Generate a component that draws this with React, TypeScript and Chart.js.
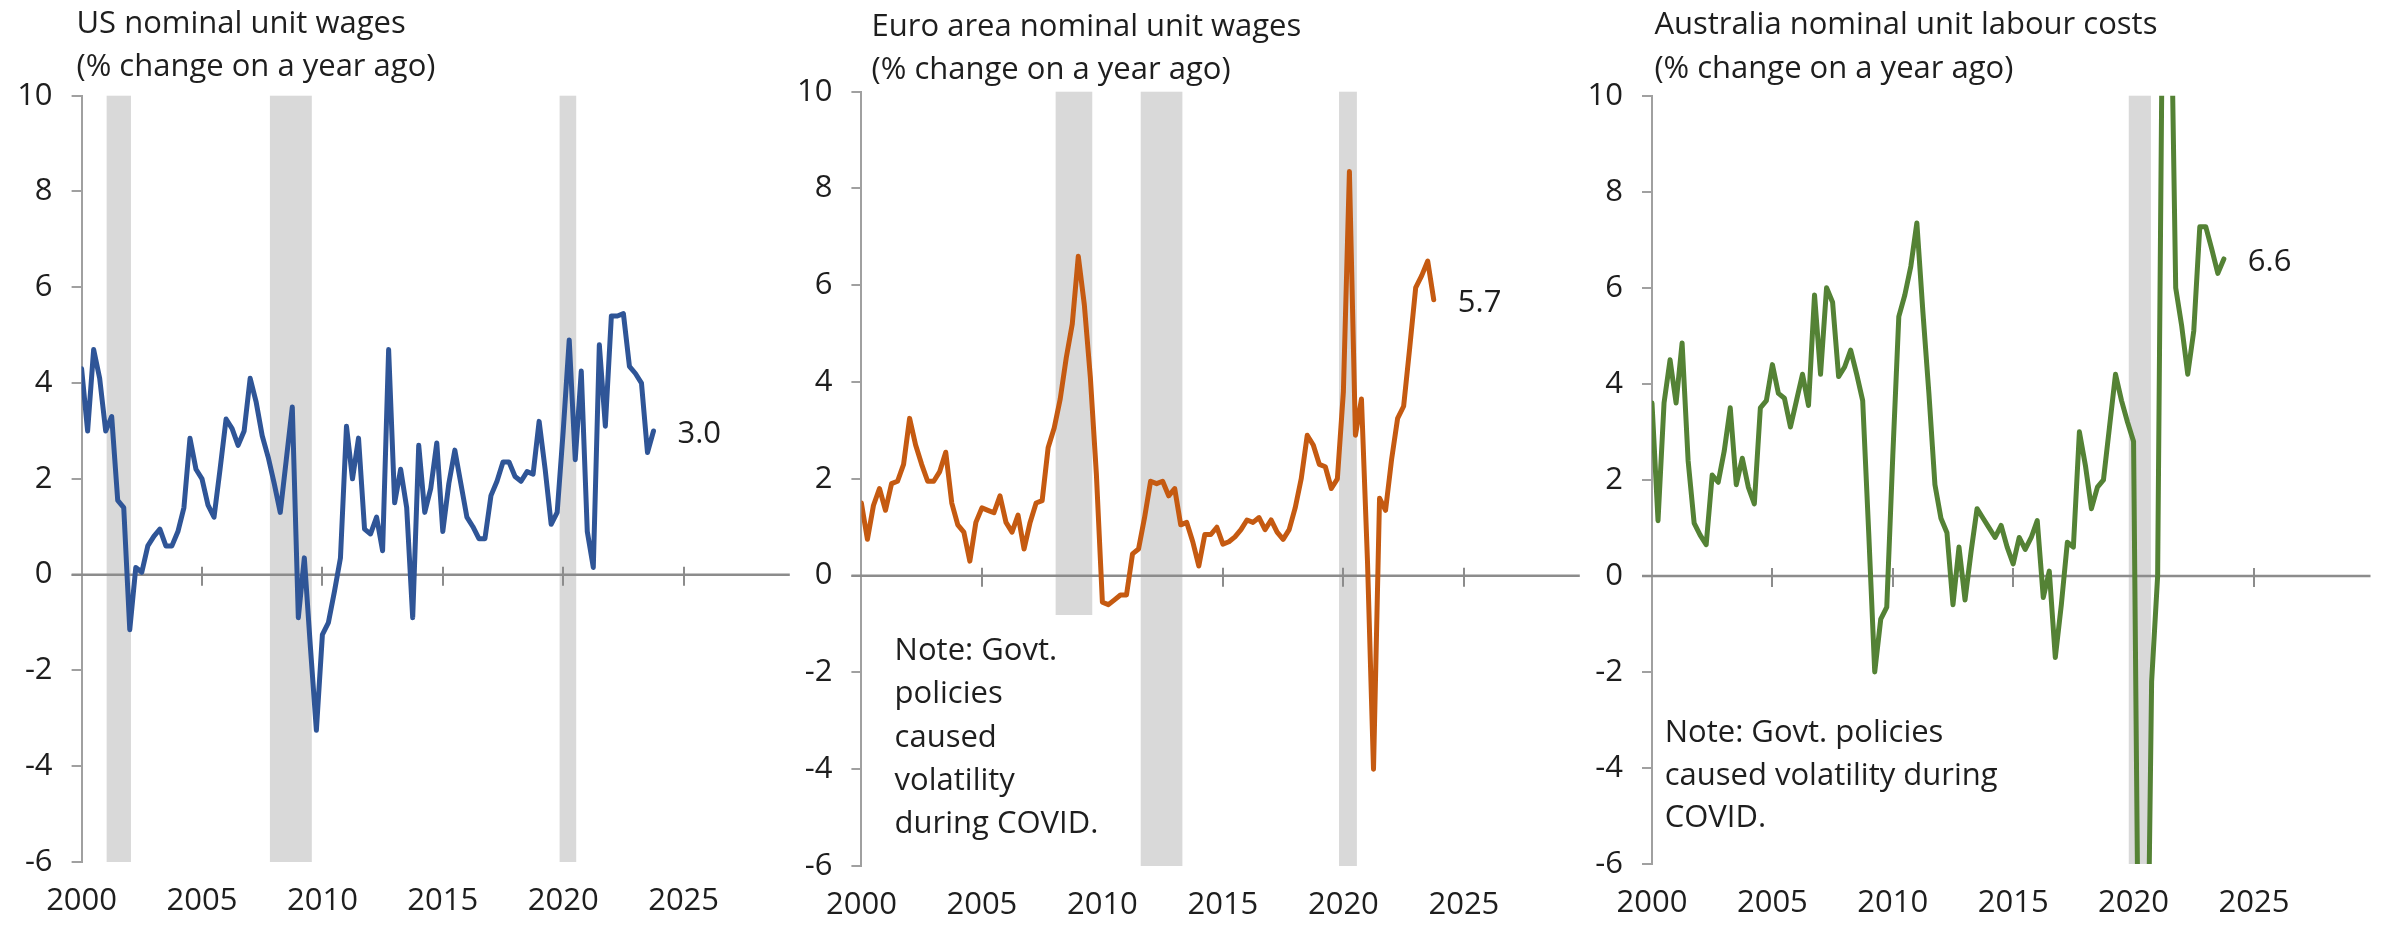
import { useEffect, useRef } from "react";
import { Chart, registerables } from "chart.js";

Chart.register(...registerables);

const FONT_FAMILY = "'Open Sans', Lato, sans-serif";
const FONT_SIZE = 31;
const TEXT_COLOR = "#1e1e1e";

// Quarterly observations, 2000 Q1 .. 2023 Q4 (decimal years)
const QUARTERS: number[] = Array.from({ length: 96 }, (_, i) => 2000 + i / 4);

const US_UNIT_WAGES = [
  4.3, 3.0, 4.7, 4.1, 3.0, 3.3, 1.55, 1.4, -1.15, 0.15,
  0.05, 0.6, 0.8, 0.95, 0.6, 0.6, 0.9, 1.4, 2.85, 2.2,
  2.0, 1.45, 1.2, 2.2, 3.25, 3.05, 2.7, 3.0, 4.1, 3.6,
  2.9, 2.45, 1.9, 1.3, 2.4, 3.5, -0.9, 0.35, -1.5, -3.25,
  -1.25, -1.0, -0.35, 0.35, 3.1, 2.0, 2.85, 0.95, 0.85, 1.2,
  0.5, 4.7, 1.5, 2.2, 1.4, -0.9, 2.7, 1.3, 1.8, 2.75,
  0.9, 1.9, 2.6, 1.9, 1.2, 1.0, 0.75, 0.75, 1.65, 1.95,
  2.35, 2.35, 2.05, 1.95, 2.15, 2.1, 3.2, 2.2, 1.05, 1.3,
  3.0, 4.9, 2.4, 4.25, 0.9, 0.15, 4.8, 3.1, 5.4, 5.4,
  5.45, 4.35, 4.2, 4.0, 2.55, 3.0,
];

const EURO_UNIT_WAGES = [
  1.5, 0.75, 1.45, 1.8, 1.35, 1.9, 1.95, 2.3, 3.25, 2.7,
  2.3, 1.95, 1.95, 2.15, 2.55, 1.5, 1.05, 0.9, 0.3, 1.1,
  1.4, 1.35, 1.3, 1.65, 1.1, 0.9, 1.25, 0.55, 1.1, 1.5,
  1.55, 2.65, 3.05, 3.65, 4.5, 5.2, 6.6, 5.6, 4.1, 2.1,
  -0.55, -0.6, -0.5, -0.4, -0.4, 0.45, 0.55, 1.2, 1.95, 1.9,
  1.95, 1.65, 1.8, 1.05, 1.1, 0.7, 0.2, 0.85, 0.85, 1.0,
  0.65, 0.7, 0.8, 0.95, 1.15, 1.1, 1.2, 0.95, 1.15, 0.9,
  0.75, 0.95, 1.4, 2.0, 2.9, 2.7, 2.3, 2.25, 1.8, 2.0,
  3.8, 8.35, 2.9, 3.65, 0.3, -4.0, 1.6, 1.35, 2.4, 3.25,
  3.5, 4.7, 5.95, 6.2, 6.5, 5.7,
];

const AUS_UNIT_LABOUR_COSTS = [
  3.6, 1.15, 3.6, 4.5, 3.6, 4.85, 2.4, 1.1, 0.85, 0.65,
  2.1, 1.95, 2.6, 3.5, 1.9, 2.45, 1.85, 1.5, 3.5, 3.65,
  4.4, 3.8, 3.7, 3.1, 3.65, 4.2, 3.55, 5.85, 4.2, 6.0,
  5.7, 4.15, 4.35, 4.7, 4.2, 3.65, 0.9, -2.0, -0.9, -0.65,
  2.5, 5.4, 5.85, 6.45, 7.35, 5.5, 3.8, 1.9, 1.2, 0.9,
  -0.6, 0.6, -0.5, 0.5, 1.4, 1.2, 1.0, 0.8, 1.05, 0.6,
  0.25, 0.8, 0.55, 0.8, 1.15, -0.45, 0.1, -1.7, -0.6, 0.7,
  0.6, 3.0, 2.3, 1.4, 1.85, 2.0, 3.1, 4.2, 3.65, 3.2,
  2.8, -11.0, -12.0, -2.2, 0.0, 15.0, 14.0, 6.0, 5.2, 4.2,
  5.1, 7.27, 7.27, 6.8, 6.3, 6.6,
];

// Shaded periods [start, end] in decimal years
const US_SHADED = [[2001.04, 2002.05], [2007.82, 2009.56], [2019.85, 2020.54]];
const EURO_SHADED = [[2008.06, 2009.58], [2011.59, 2013.32], [2019.82, 2020.56]];
const AUS_SHADED = [[2019.8, 2020.72]];

const Y_TICKS = [-6, -4, -2, 0, 2, 4, 6, 8, 10];
const X_TICKS = [2000, 2005, 2010, 2015, 2020, 2025];

const US_TITLE = ["US nominal unit wages", "(% change on a year ago)"];
const EURO_TITLE = ["Euro area nominal unit wages", "(% change on a year ago)"];
const AUS_TITLE = ["Australia nominal unit labour costs", "(% change on a year ago)"];
const EURO_NOTE = ["Note: Govt.", "policies", "caused", "volatility", "during COVID."];
const AUS_NOTE = ["Note: Govt. policies", "caused volatility during", "COVID."];
const END_LABELS = ["3.0", "5.7", "6.6"];

type Panel = {
  key: string;
  values: number[];
  color: string;
  shaded: number[][];
  title: string[];
  note: string[];
  endLabel: string;
  canvasLeft: number;
  canvasWidth: number;
  yAxisWidth: number;
  padRight: number;
  padTop: number;
  xAxisHeight: number;
  xMax: number;
  titleDx: number;
  titleY: number[];
  noteDx: number;
  noteY0: number;
  noteStep: number;
  noteBox?: { dx: number; w: number; top: number };
};

const PANELS: Panel[] = [
  {
    key: "us",
    values: US_UNIT_WAGES,
    color: "#2F5597",
    shaded: US_SHADED,
    title: US_TITLE,
    note: [],
    endLabel: END_LABELS[0],
    canvasLeft: 0,
    canvasWidth: 800,
    yAxisWidth: 81.6,
    padRight: 10.2,
    padTop: 95.7,
    xAxisHeight: 64,
    xMax: 2029.41,
    titleDx: -5.1,
    titleY: [33.3, 76],
    noteDx: 0,
    noteY0: 0,
    noteStep: 0,
  },
  {
    key: "euro",
    values: EURO_UNIT_WAGES,
    color: "#C55A11",
    shaded: EURO_SHADED,
    title: EURO_TITLE,
    note: EURO_NOTE,
    endLabel: END_LABELS[1],
    canvasLeft: 800,
    canvasWidth: 790,
    yAxisWidth: 61.4,
    padRight: 10.2,
    padTop: 91.7,
    xAxisHeight: 60,
    xMax: 2029.81,
    titleDx: 10.2,
    titleY: [36, 79.3],
    noteDx: 33.2,
    noteY0: 660,
    noteStep: 43.3,
    noteBox: { dx: 14, w: 226, top: 615 },
  },
  {
    key: "aus",
    values: AUS_UNIT_LABOUR_COSTS,
    color: "#548235",
    shaded: AUS_SHADED,
    title: AUS_TITLE,
    note: AUS_NOTE,
    endLabel: END_LABELS[2],
    canvasLeft: 1590,
    canvasWidth: 795,
    yAxisWidth: 62,
    padRight: 14.5,
    padTop: 95.7,
    xAxisHeight: 62,
    xMax: 2029.84,
    titleDx: 2.4,
    titleY: [34.3, 78.3],
    noteDx: 12.7,
    noteY0: 742,
    noteStep: 42.5,
  },
];

function makeDecor(p: Panel) {
  return {
    id: "decor-" + p.key,
    beforeDatasetsDraw(chart: any) {
      const { ctx, chartArea: ca, scales } = chart;
      const xs = scales.x;
      const ys = scales.y;
      ctx.save();
      ctx.fillStyle = "#D9D9D9";
      for (const [a, b] of p.shaded) {
        const x0 = xs.getPixelForValue(a);
        const x1 = xs.getPixelForValue(b);
        ctx.fillRect(x0, ca.top, x1 - x0, ca.bottom - ca.top);
      }
      if (p.noteBox) {
        ctx.fillStyle = "#FFFFFF";
        ctx.fillRect(ca.left + p.noteBox.dx, p.noteBox.top, p.noteBox.w, ca.bottom - p.noteBox.top + 2);
      }
      const y0 = ys.getPixelForValue(0);
      ctx.strokeStyle = "#8C8C8C";
      ctx.lineWidth = 2.5;
      ctx.beginPath();
      ctx.moveTo(ca.left - 10, y0);
      ctx.lineTo(ca.right, y0);
      ctx.stroke();
      ctx.lineWidth = 2;
      ctx.beginPath();
      for (const t of X_TICKS) {
        if (t === X_TICKS[0]) continue;
        const x = Math.round(xs.getPixelForValue(t));
        ctx.moveTo(x, y0 - 8);
        ctx.lineTo(x, y0 + 11);
      }
      ctx.stroke();
      ctx.restore();
    },
    afterDraw(chart: any) {
      const { ctx, chartArea: ca } = chart;
      ctx.save();
      ctx.fillStyle = TEXT_COLOR;
      ctx.font = `${FONT_SIZE}px ${FONT_FAMILY}`;
      ctx.textAlign = "left";
      ctx.textBaseline = "alphabetic";
      p.title.forEach((line, k) => ctx.fillText(line, ca.left + p.titleDx, p.titleY[k]));
      p.note.forEach((line, k) => ctx.fillText(line, ca.left + p.noteDx, p.noteY0 + k * p.noteStep));
      const meta = chart.getDatasetMeta(0);
      const last = meta.data[meta.data.length - 1];
      ctx.fillText(p.endLabel, last.x + 24, last.y + 12);
      ctx.restore();
    },
  };
}

function PanelChart({ panel }: { panel: Panel }) {
  const ref = useRef<HTMLCanvasElement>(null);
  useEffect(() => {
    const canvas = ref.current;
    if (!canvas) return;
    const chart = new Chart(canvas, {
      type: "line",
      data: {
        datasets: [
          {
            data: QUARTERS.map((x, i) => ({ x, y: panel.values[i] })),
            borderColor: panel.color,
            backgroundColor: panel.color,
            borderWidth: 5,
            pointRadius: 0,
            pointHoverRadius: 0,
            tension: 0,
            borderJoinStyle: "round",
            borderCapStyle: "round",
            clip: 0,
          } as any,
        ],
      },
      options: {
        animation: false,
        responsive: false,
        devicePixelRatio: 1,
        events: [],
        layout: {
          padding: { left: 0, right: panel.padRight, top: panel.padTop, bottom: 0 },
        },
        plugins: {
          legend: { display: false },
          tooltip: { enabled: false },
          title: { display: false },
        },
        scales: {
          x: {
            type: "linear",
            min: 2000,
            max: panel.xMax,
            grid: { display: false, drawTicks: false },
            border: { display: false },
            afterBuildTicks: (s: any) => {
              s.ticks = X_TICKS.map((v) => ({ value: v }));
            },
            afterFit: (s: any) => {
              s.height = panel.xAxisHeight;
            },
            ticks: {
              autoSkip: false,
              maxRotation: 0,
              minRotation: 0,
              padding: 21,
              color: TEXT_COLOR,
              font: { family: FONT_FAMILY, size: FONT_SIZE },
              callback: (v: any) => String(v),
            },
          },
          y: {
            type: "linear",
            min: -6,
            max: 10,
            afterBuildTicks: (s: any) => {
              s.ticks = Y_TICKS.map((v) => ({ value: v }));
            },
            afterFit: (s: any) => {
              s.width = panel.yAxisWidth;
            },
            grid: {
              display: true,
              drawOnChartArea: false,
              drawTicks: true,
              tickLength: 10,
              color: "#A0A0A0",
              lineWidth: 2,
            },
            border: { display: true, color: "#A0A0A0", width: 2 },
            ticks: {
              padding: 19,
              color: TEXT_COLOR,
              font: { family: FONT_FAMILY, size: FONT_SIZE },
              callback: (v: any) => String(v),
            },
          },
        },
      },
      plugins: [makeDecor(panel)],
    });
    return () => chart.destroy();
  }, [panel]);
  return (
    <canvas
      ref={ref}
      width={panel.canvasWidth}
      height={926}
      style={{
        position: "absolute",
        left: panel.canvasLeft,
        top: 0,
        width: panel.canvasWidth,
        height: 926,
      }}
    />
  );
}

export default function App() {
  return (
    <div
      style={{
        position: "absolute",
        left: 0,
        top: 0,
        width: 2385,
        height: 926,
        background: "#FFFFFF",
        overflow: "hidden",
      }}
    >
      {PANELS.map((p) => (
        <PanelChart key={p.key} panel={p} />
      ))}
    </div>
  );
}
